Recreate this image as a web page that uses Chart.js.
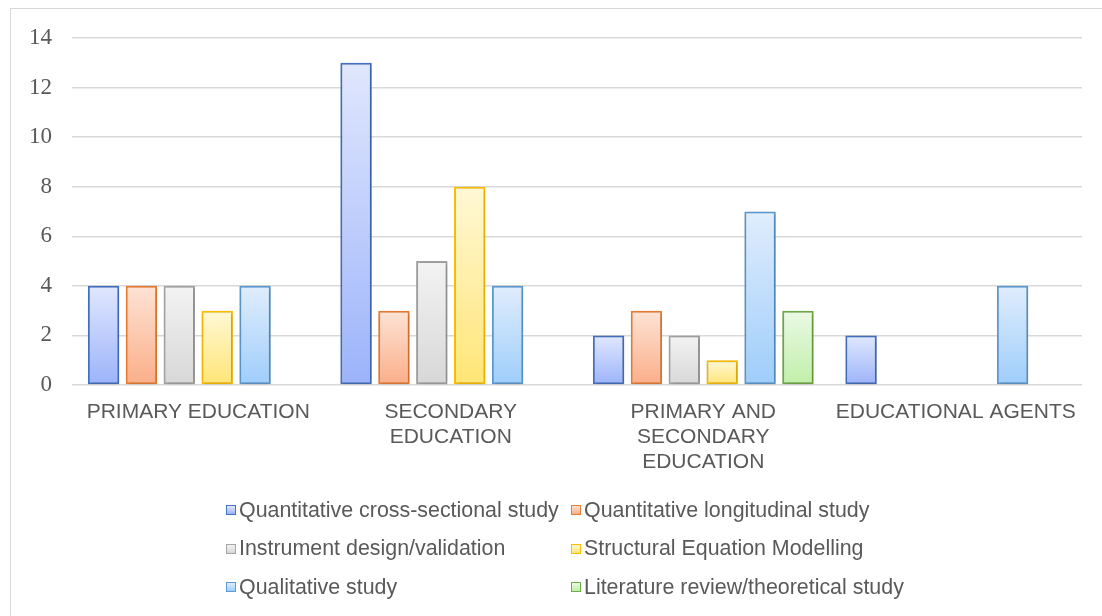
<!DOCTYPE html>
<html>
<head>
<meta charset="utf-8">
<script src="https://cdn.jsdelivr.net/npm/chart.js@4.4.1/dist/chart.umd.min.js"></script>
<style>
  html, body { margin: 0; padding: 0; background: #fff; }
  body { width: 1102px; height: 616px; position: relative; overflow: hidden; }
  #frame {
    position: absolute; left: 10px; top: 8px; width: 1200px; height: 700px;
    border: 1px solid #d9d9d9; box-sizing: border-box;
  }
  #wrap { position: absolute; left: 0; top: 3px; width: 1102px; height: 616px; }
  #legend {
    position: absolute; left: 226px; top: 491px;
    display: grid; grid-template-columns: 345px auto; row-gap: 0;
    font-family: "Liberation Sans", Arial, sans-serif; font-size: 21.4px; color: #595959;
  }
  #legend .item { display: flex; align-items: center; height: 38.5px; white-space: nowrap; }
  #legend .sw { width: 8px; height: 8px; border: 1px solid; margin-right: 3px; flex: none; }
</style>
</head>
<body>
<div id="frame"></div>
<div id="wrap"><canvas id="chart" width="1102" height="616"></canvas></div>
<div id="legend"></div>
<script>
// Education level groups (multi-line axis labels)
const categories = [
  ['PRIMARY EDUCATION'],
  ['SECONDARY', 'EDUCATION'],
  ['PRIMARY AND', 'SECONDARY', 'EDUCATION'],
  ['EDUCATIONAL AGENTS']
];

// Number of studies per design, one value per education group
const crossSectional  = [4, 13, 2, 2];
const longitudinal    = [4, 3, 3, null];
const instrument      = [4, 5, 2, null];
const sem             = [3, 8, 1, null];
const qualitative     = [4, 4, 7, 4];
const literature      = [null, null, 3, null];

const seriesNames = [
  'Quantitative cross-sectional study',
  'Quantitative longitudinal study',
  'Instrument design/validation',
  'Structural Equation Modelling',
  'Qualitative study',
  'Literature review/theoretical study'
];

const yTicks = [0, 2, 4, 6, 8, 10, 12, 14];

// border, gradient top, gradient bottom
const palette = [
  ['#4472c4', '#e0e7fd', '#9cb3fa'],
  ['#ed7d31', '#fde3d5', '#fbae88'],
  ['#a5a5a5', '#f3f3f3', '#d7d7d7'],
  ['#ffc000', '#fff8d6', '#ffe576'],
  ['#5b9bd5', '#e0edfc', '#9ecdfb'],
  ['#70ad47', '#ebf9e4', '#c0efa9']
];

const seriesData = [crossSectional, longitudinal, instrument, sem, qualitative, literature];

function barGradient(i) {
  return function (ctx) {
    const chart = ctx.chart;
    const c = palette[i];
    if (!chart.chartArea || ctx.raw == null || !chart.scales.y) return c[2];
    const y = chart.scales.y;
    const top = y.getPixelForValue(ctx.raw);
    const bottom = y.getPixelForValue(0);
    if (!isFinite(top) || !isFinite(bottom) || top === bottom) return c[2];
    const g = chart.ctx.createLinearGradient(0, top, 0, bottom);
    g.addColorStop(0, c[1]);
    g.addColorStop(1, c[2]);
    return g;
  };
}

const datasets = seriesData.map((d, i) => ({
  label: seriesNames[i],
  data: d,
  backgroundColor: barGradient(i),
  borderColor: palette[i][0],
  borderWidth: 2,
  borderSkipped: false,
  barPercentage: 0.83,
  categoryPercentage: 0.9
}));

// soft drop shadow under the bars
const barShadow = {
  id: 'barShadow',
  beforeDatasetsDraw(chart) {
    const c = chart.ctx;
    c.save();
    c.shadowColor = 'rgba(0,0,0,0.22)';
    c.shadowBlur = 4;
    c.shadowOffsetX = 1;
    c.shadowOffsetY = 1;
  },
  afterDatasetsDraw(chart) {
    chart.ctx.restore();
  }
};

const chart = new Chart(document.getElementById('chart'), {
  type: 'bar',
  data: { labels: categories, datasets },
  plugins: [barShadow],
  options: {
    responsive: false,
    animation: false,
    layout: { padding: { top: 35, right: 20, left: 0, bottom: 0 } },
    plugins: {
      legend: { display: false },
      tooltip: { enabled: false }
    },
    scales: {
      x: {
        grid: { display: false },
        border: { display: false },
        ticks: {
          color: '#595959',
          font: { family: '"Liberation Sans", Arial, sans-serif', size: 21, lineHeight: 1.19 },
          maxRotation: 0,
          minRotation: 0,
          autoSkip: false,
          padding: 7
        },
        afterFit(scale) { scale.height = 234; }
      },
      y: {
        min: 0,
        max: 14,
        afterBuildTicks(scale) { scale.ticks = yTicks.map(v => ({ value: v })); },
        grid: { color: '#d9d9d9', lineWidth: 1.5, drawTicks: false },
        border: { display: false },
        ticks: {
          color: '#595959',
          font: { family: '"Liberation Serif", "Times New Roman", serif', size: 23 },
          padding: 20
        },
        afterFit(scale) { scale.width = 72; }
      }
    }
  }
});

// HTML legend laid out as a two-column grid
const legendEl = document.getElementById('legend');
chart.data.datasets.forEach((ds, i) => {
  const item = document.createElement('div');
  item.className = 'item';
  const sw = document.createElement('span');
  sw.className = 'sw';
  sw.style.borderColor = palette[i][0];
  sw.style.background = 'linear-gradient(' + palette[i][1] + ',' + palette[i][2] + ')';
  const txt = document.createElement('span');
  txt.textContent = ds.label;
  item.appendChild(sw);
  item.appendChild(txt);
  legendEl.appendChild(item);
});
</script>
</body>
</html>
